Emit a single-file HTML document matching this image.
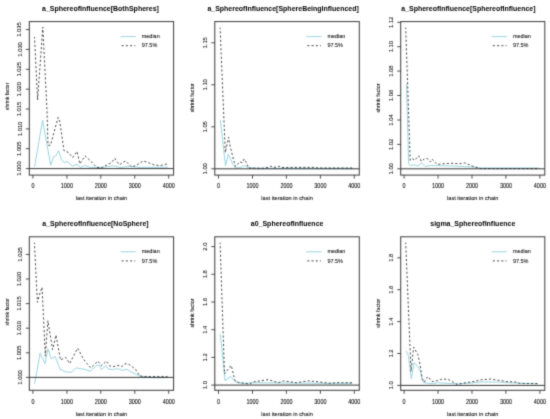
<!DOCTYPE html><html><head><meta charset="utf-8"><style>html,body{margin:0;padding:0;background:#fff;width:550px;height:419px;overflow:hidden}svg{display:block}text{font-family:"Liberation Sans", sans-serif}.a{stroke:#000;stroke-width:0.06px}</style></head><body>
<svg width="550" height="419" viewBox="0 0 550 419">
<rect width="550" height="419" fill="#fff"/>
<defs><filter id="b" x="0" y="0" width="550" height="419" filterUnits="userSpaceOnUse" color-interpolation-filters="sRGB"><feConvolveMatrix order="3" kernelMatrix="0.0225 0.1050 0.0225 0.1050 0.4900 0.1050 0.0225 0.1050 0.0225" divisor="1" edgeMode="duplicate" preserveAlpha="false"/></filter></defs><g filter="url(#b)">
<text transform="translate(42.0 10.60) scale(1 1.100)" font-size="7" font-weight="bold" fill="#000000">a_SphereofInfluence[BothSpheres]</text>
<polyline points="34.5,167.0 42.6,120.3 50.7,165.3 53.7,156.7 55.8,155.8 58.6,150.7 61.5,160.1 64.9,162.7 67.1,161.0 71.8,166.2 77.0,164.4 80.4,167.4 85.0,165.6 89.8,167.4 100.0,167.6 114.0,165.8 120.0,167.5 130.0,166.3 140.0,167.4 168.0,167.2" fill="none" stroke="#8fcfdc" stroke-width="0.9" stroke-linejoin="round"/>
<polyline points="34.5,37.0 37.6,100.0 42.8,27.2 47.0,110.0 48.0,145.0 50.4,145.5 58.1,117.4 59.9,122.0 61.7,135.0 64.0,150.7 68.4,152.4 72.6,157.6 77.0,151.5 79.9,163.9 85.0,155.8 91.5,161.9 96.2,167.1 101.6,167.9 107.0,164.8 111.6,162.5 114.7,158.3 119.4,164.8 125.5,160.9 131.7,167.1 136.4,165.2 143.3,160.9 148.7,162.8 154.9,165.2 161.1,165.5 168.0,163.7" fill="none" stroke="#333333" stroke-width="0.9" stroke-dasharray="2.1,2.15" stroke-dashoffset="0.7"/>
<line x1="29.3" x2="173.6" y1="168.6" y2="168.6" stroke="#222" stroke-width="0.9"/>
<rect x="29.3" y="21.6" width="144.3" height="153.5" fill="none" stroke="#3a3a3a" stroke-width="1"/>
<line x1="25.8" x2="29.3" y1="168.6" y2="168.6" stroke="#3a3a3a" stroke-width="0.9"/>
<text x="19.4" y="168.6" class="a" font-size="5.8" fill="#000000" text-anchor="middle" transform="rotate(-90 19.4 168.6)" dy="2.1">1.000</text>
<line x1="25.8" x2="29.3" y1="148.7" y2="148.7" stroke="#3a3a3a" stroke-width="0.9"/>
<text x="19.4" y="148.7" class="a" font-size="5.8" fill="#000000" text-anchor="middle" transform="rotate(-90 19.4 148.7)" dy="2.1">1.005</text>
<line x1="25.8" x2="29.3" y1="128.9" y2="128.9" stroke="#3a3a3a" stroke-width="0.9"/>
<text x="19.4" y="128.9" class="a" font-size="5.8" fill="#000000" text-anchor="middle" transform="rotate(-90 19.4 128.9)" dy="2.1">1.010</text>
<line x1="25.8" x2="29.3" y1="109.0" y2="109.0" stroke="#3a3a3a" stroke-width="0.9"/>
<text x="19.4" y="109.0" class="a" font-size="5.8" fill="#000000" text-anchor="middle" transform="rotate(-90 19.4 109.0)" dy="2.1">1.015</text>
<line x1="25.8" x2="29.3" y1="89.2" y2="89.2" stroke="#3a3a3a" stroke-width="0.9"/>
<text x="19.4" y="89.2" class="a" font-size="5.8" fill="#000000" text-anchor="middle" transform="rotate(-90 19.4 89.2)" dy="2.1">1.020</text>
<line x1="25.8" x2="29.3" y1="69.3" y2="69.3" stroke="#3a3a3a" stroke-width="0.9"/>
<text x="19.4" y="69.3" class="a" font-size="5.8" fill="#000000" text-anchor="middle" transform="rotate(-90 19.4 69.3)" dy="2.1">1.025</text>
<line x1="25.8" x2="29.3" y1="49.4" y2="49.4" stroke="#3a3a3a" stroke-width="0.9"/>
<text x="19.4" y="49.4" class="a" font-size="5.8" fill="#000000" text-anchor="middle" transform="rotate(-90 19.4 49.4)" dy="2.1">1.030</text>
<line x1="25.8" x2="29.3" y1="29.6" y2="29.6" stroke="#3a3a3a" stroke-width="0.9"/>
<text x="19.4" y="29.6" class="a" font-size="5.8" fill="#000000" text-anchor="middle" transform="rotate(-90 19.4 29.6)" dy="2.1">1.035</text>
<line x1="32.9" x2="32.9" y1="175.1" y2="178.6" stroke="#3a3a3a" stroke-width="0.9"/>
<text transform="translate(32.90 188.30) scale(1 1.200)" class="a" font-size="5.45" fill="#000000" text-anchor="middle">0</text>
<line x1="66.9" x2="66.9" y1="175.1" y2="178.6" stroke="#3a3a3a" stroke-width="0.9"/>
<text transform="translate(66.86 188.30) scale(1 1.200)" class="a" font-size="5.45" fill="#000000" text-anchor="middle">1000</text>
<line x1="100.8" x2="100.8" y1="175.1" y2="178.6" stroke="#3a3a3a" stroke-width="0.9"/>
<text transform="translate(100.82 188.30) scale(1 1.200)" class="a" font-size="5.45" fill="#000000" text-anchor="middle">2000</text>
<line x1="134.8" x2="134.8" y1="175.1" y2="178.6" stroke="#3a3a3a" stroke-width="0.9"/>
<text transform="translate(134.78 188.30) scale(1 1.200)" class="a" font-size="5.45" fill="#000000" text-anchor="middle">3000</text>
<line x1="168.7" x2="168.7" y1="175.1" y2="178.6" stroke="#3a3a3a" stroke-width="0.9"/>
<text transform="translate(168.74 188.30) scale(1 1.200)" class="a" font-size="5.45" fill="#000000" text-anchor="middle">4000</text>
<text transform="translate(101.45 200.45) scale(1 1.080)" class="a" font-size="5.65" fill="#000000" text-anchor="middle">last iteration in chain</text>
<text x="6.9" y="96.4" class="a" font-size="5.05" fill="#000000" text-anchor="middle" transform="rotate(-90 6.9 96.4)" dy="1.9">shrink factor</text>
<line x1="120.5" x2="135.8" y1="36.6" y2="36.6" stroke="#8fcfdc" stroke-width="0.9"/>
<line x1="121.6" x2="135.3" y1="45.7" y2="45.7" stroke="#333333" stroke-width="0.9" stroke-dasharray="2.1,2.15"/>
<text x="141.7" y="38.1" class="a" font-size="5.5" fill="#000000">median</text>
<text x="141.7" y="47.4" class="a" font-size="5.5" fill="#000000">97.5%</text>
<text transform="translate(207.4 10.60) scale(1 1.100)" font-size="7" font-weight="bold" fill="#000000">a_SphereofInfluence[SphereBeingInfluenced]</text>
<polyline points="220.3,119.8 225.5,165.6 228.3,154.2 232.1,162.7 235.0,167.5 237.9,168.0 242.6,166.6 244.5,165.6 248.0,167.5 260.0,168.3 353.5,168.4" fill="none" stroke="#8fcfdc" stroke-width="0.9" stroke-linejoin="round"/>
<polyline points="220.1,27.7 225.3,152.5 228.6,137.2 230.2,146.5 233.1,158.0 235.4,166.6 237.3,164.7 239.8,161.8 242.2,162.7 244.2,158.9 246.4,162.7 248.7,168.2 264.0,168.2 268.0,167.3 270.6,166.2 274.0,167.5 278.3,166.2 282.0,167.5 300.0,167.3 314.0,167.3 318.0,168.0 353.5,168.0" fill="none" stroke="#333333" stroke-width="0.9" stroke-dasharray="2.1,2.15" stroke-dashoffset="0.7"/>
<line x1="214.8" x2="359.3" y1="168.8" y2="168.8" stroke="#222" stroke-width="0.9"/>
<rect x="214.8" y="21.6" width="144.5" height="153.5" fill="none" stroke="#3a3a3a" stroke-width="1"/>
<line x1="211.3" x2="214.8" y1="168.8" y2="168.8" stroke="#3a3a3a" stroke-width="0.9"/>
<text x="204.9" y="168.8" class="a" font-size="5.8" fill="#000000" text-anchor="middle" transform="rotate(-90 204.9 168.8)" dy="2.1">1.00</text>
<line x1="211.3" x2="214.8" y1="126.8" y2="126.8" stroke="#3a3a3a" stroke-width="0.9"/>
<text x="204.9" y="126.8" class="a" font-size="5.8" fill="#000000" text-anchor="middle" transform="rotate(-90 204.9 126.8)" dy="2.1">1.05</text>
<line x1="211.3" x2="214.8" y1="84.8" y2="84.8" stroke="#3a3a3a" stroke-width="0.9"/>
<text x="204.9" y="84.8" class="a" font-size="5.8" fill="#000000" text-anchor="middle" transform="rotate(-90 204.9 84.8)" dy="2.1">1.10</text>
<line x1="211.3" x2="214.8" y1="42.8" y2="42.8" stroke="#3a3a3a" stroke-width="0.9"/>
<text x="204.9" y="42.8" class="a" font-size="5.8" fill="#000000" text-anchor="middle" transform="rotate(-90 204.9 42.8)" dy="2.1">1.15</text>
<line x1="218.5" x2="218.5" y1="175.1" y2="178.6" stroke="#3a3a3a" stroke-width="0.9"/>
<text transform="translate(218.50 188.30) scale(1 1.200)" class="a" font-size="5.45" fill="#000000" text-anchor="middle">0</text>
<line x1="252.5" x2="252.5" y1="175.1" y2="178.6" stroke="#3a3a3a" stroke-width="0.9"/>
<text transform="translate(252.46 188.30) scale(1 1.200)" class="a" font-size="5.45" fill="#000000" text-anchor="middle">1000</text>
<line x1="286.4" x2="286.4" y1="175.1" y2="178.6" stroke="#3a3a3a" stroke-width="0.9"/>
<text transform="translate(286.42 188.30) scale(1 1.200)" class="a" font-size="5.45" fill="#000000" text-anchor="middle">2000</text>
<line x1="320.4" x2="320.4" y1="175.1" y2="178.6" stroke="#3a3a3a" stroke-width="0.9"/>
<text transform="translate(320.38 188.30) scale(1 1.200)" class="a" font-size="5.45" fill="#000000" text-anchor="middle">3000</text>
<line x1="354.3" x2="354.3" y1="175.1" y2="178.6" stroke="#3a3a3a" stroke-width="0.9"/>
<text transform="translate(354.34 188.30) scale(1 1.200)" class="a" font-size="5.45" fill="#000000" text-anchor="middle">4000</text>
<text transform="translate(287.05 200.45) scale(1 1.080)" class="a" font-size="5.65" fill="#000000" text-anchor="middle">last iteration in chain</text>
<text x="192.4" y="97.8" class="a" font-size="5.30" fill="#000000" text-anchor="middle" transform="rotate(-90 192.4 97.8)" dy="1.9">shrink factor</text>
<line x1="306.2" x2="321.5" y1="36.6" y2="36.6" stroke="#8fcfdc" stroke-width="0.9"/>
<line x1="307.3" x2="321.0" y1="45.7" y2="45.7" stroke="#333333" stroke-width="0.9" stroke-dasharray="2.1,2.15"/>
<text x="327.4" y="38.1" class="a" font-size="5.5" fill="#000000">median</text>
<text x="327.4" y="47.4" class="a" font-size="5.5" fill="#000000">97.5%</text>
<text transform="translate(401.2 10.60) scale(1 1.100)" font-size="7" font-weight="bold" fill="#000000">a_SphereofInfluence[SphereofInfluence]</text>
<polyline points="406.5,84.0 408.6,163.7 410.2,165.5 413.6,164.8 418.0,166.0 421.5,162.6 425.0,166.5 430.0,165.5 450.9,165.9 472.0,167.0 480.0,168.0 539.0,168.0" fill="none" stroke="#8fcfdc" stroke-width="0.9" stroke-linejoin="round"/>
<polyline points="405.7,27.7 410.2,160.3 412.4,158.7 414.7,160.3 418.6,155.8 421.5,161.4 424.4,158.7 427.6,158.7 430.5,161.9 432.1,159.2 437.3,164.5 442.6,163.8 450.9,163.2 459.3,163.8 464.5,162.8 471.8,165.9 480.2,168.5 539.5,168.6" fill="none" stroke="#333333" stroke-width="0.9" stroke-dasharray="2.1,2.15" stroke-dashoffset="0.7"/>
<line x1="400.7" x2="544.8" y1="168.8" y2="168.8" stroke="#222" stroke-width="0.9"/>
<rect x="400.7" y="21.6" width="144.1" height="153.5" fill="none" stroke="#3a3a3a" stroke-width="1"/>
<line x1="397.2" x2="400.7" y1="168.8" y2="168.8" stroke="#3a3a3a" stroke-width="0.9"/>
<text x="390.8" y="168.8" class="a" font-size="5.8" fill="#000000" text-anchor="middle" transform="rotate(-90 390.8 168.8)" dy="2.1">1.00</text>
<line x1="397.2" x2="400.7" y1="144.4" y2="144.4" stroke="#3a3a3a" stroke-width="0.9"/>
<text x="390.8" y="144.4" class="a" font-size="5.8" fill="#000000" text-anchor="middle" transform="rotate(-90 390.8 144.4)" dy="2.1">1.02</text>
<line x1="397.2" x2="400.7" y1="120.0" y2="120.0" stroke="#3a3a3a" stroke-width="0.9"/>
<text x="390.8" y="120.0" class="a" font-size="5.8" fill="#000000" text-anchor="middle" transform="rotate(-90 390.8 120.0)" dy="2.1">1.04</text>
<line x1="397.2" x2="400.7" y1="95.5" y2="95.5" stroke="#3a3a3a" stroke-width="0.9"/>
<text x="390.8" y="95.5" class="a" font-size="5.8" fill="#000000" text-anchor="middle" transform="rotate(-90 390.8 95.5)" dy="2.1">1.06</text>
<line x1="397.2" x2="400.7" y1="71.1" y2="71.1" stroke="#3a3a3a" stroke-width="0.9"/>
<text x="390.8" y="71.1" class="a" font-size="5.8" fill="#000000" text-anchor="middle" transform="rotate(-90 390.8 71.1)" dy="2.1">1.08</text>
<line x1="397.2" x2="400.7" y1="46.7" y2="46.7" stroke="#3a3a3a" stroke-width="0.9"/>
<text x="390.8" y="46.7" class="a" font-size="5.8" fill="#000000" text-anchor="middle" transform="rotate(-90 390.8 46.7)" dy="2.1">1.10</text>
<line x1="397.2" x2="400.7" y1="22.3" y2="22.3" stroke="#3a3a3a" stroke-width="0.9"/>
<text x="390.8" y="22.3" class="a" font-size="5.8" fill="#000000" text-anchor="middle" transform="rotate(-90 390.8 22.3)" dy="2.1">1.12</text>
<line x1="404.1" x2="404.1" y1="175.1" y2="178.6" stroke="#3a3a3a" stroke-width="0.9"/>
<text transform="translate(404.05 188.30) scale(1 1.200)" class="a" font-size="5.45" fill="#000000" text-anchor="middle">0</text>
<line x1="438.0" x2="438.0" y1="175.1" y2="178.6" stroke="#3a3a3a" stroke-width="0.9"/>
<text transform="translate(438.01 188.30) scale(1 1.200)" class="a" font-size="5.45" fill="#000000" text-anchor="middle">1000</text>
<line x1="472.0" x2="472.0" y1="175.1" y2="178.6" stroke="#3a3a3a" stroke-width="0.9"/>
<text transform="translate(471.97 188.30) scale(1 1.200)" class="a" font-size="5.45" fill="#000000" text-anchor="middle">2000</text>
<line x1="505.9" x2="505.9" y1="175.1" y2="178.6" stroke="#3a3a3a" stroke-width="0.9"/>
<text transform="translate(505.93 188.30) scale(1 1.200)" class="a" font-size="5.45" fill="#000000" text-anchor="middle">3000</text>
<line x1="539.9" x2="539.9" y1="175.1" y2="178.6" stroke="#3a3a3a" stroke-width="0.9"/>
<text transform="translate(539.89 188.30) scale(1 1.200)" class="a" font-size="5.45" fill="#000000" text-anchor="middle">4000</text>
<text transform="translate(472.75 200.45) scale(1 1.080)" class="a" font-size="5.65" fill="#000000" text-anchor="middle">last iteration in chain</text>
<text x="377.8" y="98.0" class="a" font-size="5.35" fill="#000000" text-anchor="middle" transform="rotate(-90 377.8 98.0)" dy="1.9">shrink factor</text>
<line x1="491.7" x2="507.0" y1="36.6" y2="36.6" stroke="#8fcfdc" stroke-width="0.9"/>
<line x1="492.8" x2="506.5" y1="45.7" y2="45.7" stroke="#333333" stroke-width="0.9" stroke-dasharray="2.1,2.15"/>
<text x="512.9" y="38.1" class="a" font-size="5.5" fill="#000000">median</text>
<text x="512.9" y="47.4" class="a" font-size="5.5" fill="#000000">97.5%</text>
<text transform="translate(42.3 225.80) scale(1 1.100)" font-size="7" font-weight="bold" fill="#000000">a_SphereofInfluence[NoSphere]</text>
<polyline points="34.6,383.9 40.1,353.1 45.0,363.6 47.9,348.8 51.3,358.7 55.2,356.6 60.0,369.2 65.7,371.9 71.0,372.4 76.2,367.9 84.1,369.2 90.0,371.2 93.1,368.8 97.0,365.0 99.3,365.3 101.2,369.6 106.3,365.3 108.6,369.3 113.3,369.3 117.9,368.8 122.6,370.4 127.2,369.3 131.1,372.0 136.5,374.6 139.6,376.1 152.0,377.7 159.8,377.8 167.5,377.4" fill="none" stroke="#8fcfdc" stroke-width="0.9" stroke-linejoin="round"/>
<polyline points="34.4,242.7 37.4,302.3 40.0,293.1 42.1,287.3 45.3,356.1 47.9,320.7 52.6,349.6 56.0,335.1 60.5,360.0 65.7,357.4 69.7,363.5 77.6,348.2 84.0,360.0 90.7,367.9 94.7,364.2 97.8,361.1 101.6,365.7 106.3,361.1 110.2,366.2 114.0,366.5 117.9,365.3 121.8,366.5 124.9,363.9 128.0,363.7 131.9,366.5 135.7,369.6 139.6,375.8 144.3,376.6 167.5,376.6" fill="none" stroke="#333333" stroke-width="0.9" stroke-dasharray="2.1,2.15" stroke-dashoffset="0.7"/>
<line x1="29.3" x2="173.6" y1="377.4" y2="377.4" stroke="#222" stroke-width="0.9"/>
<rect x="29.3" y="236.8" width="144.3" height="153.5" fill="none" stroke="#3a3a3a" stroke-width="1"/>
<line x1="25.8" x2="29.3" y1="377.4" y2="377.4" stroke="#3a3a3a" stroke-width="0.9"/>
<text x="19.4" y="377.4" class="a" font-size="5.8" fill="#000000" text-anchor="middle" transform="rotate(-90 19.4 377.4)" dy="2.1">1.000</text>
<line x1="25.8" x2="29.3" y1="352.8" y2="352.8" stroke="#3a3a3a" stroke-width="0.9"/>
<text x="19.4" y="352.8" class="a" font-size="5.8" fill="#000000" text-anchor="middle" transform="rotate(-90 19.4 352.8)" dy="2.1">1.005</text>
<line x1="25.8" x2="29.3" y1="328.2" y2="328.2" stroke="#3a3a3a" stroke-width="0.9"/>
<text x="19.4" y="328.2" class="a" font-size="5.8" fill="#000000" text-anchor="middle" transform="rotate(-90 19.4 328.2)" dy="2.1">1.010</text>
<line x1="25.8" x2="29.3" y1="303.6" y2="303.6" stroke="#3a3a3a" stroke-width="0.9"/>
<text x="19.4" y="303.6" class="a" font-size="5.8" fill="#000000" text-anchor="middle" transform="rotate(-90 19.4 303.6)" dy="2.1">1.015</text>
<line x1="25.8" x2="29.3" y1="279.0" y2="279.0" stroke="#3a3a3a" stroke-width="0.9"/>
<text x="19.4" y="279.0" class="a" font-size="5.8" fill="#000000" text-anchor="middle" transform="rotate(-90 19.4 279.0)" dy="2.1">1.020</text>
<line x1="25.8" x2="29.3" y1="254.4" y2="254.4" stroke="#3a3a3a" stroke-width="0.9"/>
<text x="19.4" y="254.4" class="a" font-size="5.8" fill="#000000" text-anchor="middle" transform="rotate(-90 19.4 254.4)" dy="2.1">1.025</text>
<line x1="32.9" x2="32.9" y1="390.3" y2="393.8" stroke="#3a3a3a" stroke-width="0.9"/>
<text transform="translate(32.90 403.50) scale(1 1.200)" class="a" font-size="5.45" fill="#000000" text-anchor="middle">0</text>
<line x1="66.9" x2="66.9" y1="390.3" y2="393.8" stroke="#3a3a3a" stroke-width="0.9"/>
<text transform="translate(66.86 403.50) scale(1 1.200)" class="a" font-size="5.45" fill="#000000" text-anchor="middle">1000</text>
<line x1="100.8" x2="100.8" y1="390.3" y2="393.8" stroke="#3a3a3a" stroke-width="0.9"/>
<text transform="translate(100.82 403.50) scale(1 1.200)" class="a" font-size="5.45" fill="#000000" text-anchor="middle">2000</text>
<line x1="134.8" x2="134.8" y1="390.3" y2="393.8" stroke="#3a3a3a" stroke-width="0.9"/>
<text transform="translate(134.78 403.50) scale(1 1.200)" class="a" font-size="5.45" fill="#000000" text-anchor="middle">3000</text>
<line x1="168.7" x2="168.7" y1="390.3" y2="393.8" stroke="#3a3a3a" stroke-width="0.9"/>
<text transform="translate(168.74 403.50) scale(1 1.200)" class="a" font-size="5.45" fill="#000000" text-anchor="middle">4000</text>
<text transform="translate(101.45 415.65) scale(1 1.080)" class="a" font-size="5.65" fill="#000000" text-anchor="middle">last iteration in chain</text>
<text x="6.9" y="311.7" class="a" font-size="5.05" fill="#000000" text-anchor="middle" transform="rotate(-90 6.9 311.7)" dy="1.9">shrink factor</text>
<line x1="120.5" x2="135.8" y1="251.8" y2="251.8" stroke="#8fcfdc" stroke-width="0.9"/>
<line x1="121.6" x2="135.3" y1="260.9" y2="260.9" stroke="#333333" stroke-width="0.9" stroke-dasharray="2.1,2.15"/>
<text x="141.7" y="253.4" class="a" font-size="5.5" fill="#000000">median</text>
<text x="141.7" y="262.6" class="a" font-size="5.5" fill="#000000">97.5%</text>
<text transform="translate(287.1 225.80) scale(1 1.100)" font-size="7" font-weight="bold" fill="#000000" text-anchor="middle">a0_SphereofInfluence</text>
<polyline points="220.3,333.9 225.1,380.7 230.8,376.5 235.0,381.7 242.7,383.6 252.2,382.7 352.0,383.5" fill="none" stroke="#8fcfdc" stroke-width="0.9" stroke-linejoin="round"/>
<polyline points="220.1,242.7 224.5,374.0 231.2,365.4 235.0,380.7 238.9,382.7 244.6,383.0 249.4,384.2 254.2,381.7 260.0,380.9 268.2,379.6 278.2,382.7 283.6,380.9 296.4,382.7 308.2,380.9 318.2,381.8 329.1,383.3 336.4,382.7 352.0,382.7" fill="none" stroke="#333333" stroke-width="0.9" stroke-dasharray="2.1,2.15" stroke-dashoffset="0.7"/>
<line x1="214.8" x2="359.3" y1="385.1" y2="385.1" stroke="#222" stroke-width="0.9"/>
<rect x="214.8" y="236.8" width="144.5" height="153.5" fill="none" stroke="#3a3a3a" stroke-width="1"/>
<line x1="211.3" x2="214.8" y1="385.1" y2="385.1" stroke="#3a3a3a" stroke-width="0.9"/>
<text x="204.9" y="385.1" class="a" font-size="5.8" fill="#000000" text-anchor="middle" transform="rotate(-90 204.9 385.1)" dy="2.1">1.0</text>
<line x1="211.3" x2="214.8" y1="357.4" y2="357.4" stroke="#3a3a3a" stroke-width="0.9"/>
<text x="204.9" y="357.4" class="a" font-size="5.8" fill="#000000" text-anchor="middle" transform="rotate(-90 204.9 357.4)" dy="2.1">1.2</text>
<line x1="211.3" x2="214.8" y1="329.7" y2="329.7" stroke="#3a3a3a" stroke-width="0.9"/>
<text x="204.9" y="329.7" class="a" font-size="5.8" fill="#000000" text-anchor="middle" transform="rotate(-90 204.9 329.7)" dy="2.1">1.4</text>
<line x1="211.3" x2="214.8" y1="302.0" y2="302.0" stroke="#3a3a3a" stroke-width="0.9"/>
<text x="204.9" y="302.0" class="a" font-size="5.8" fill="#000000" text-anchor="middle" transform="rotate(-90 204.9 302.0)" dy="2.1">1.6</text>
<line x1="211.3" x2="214.8" y1="274.3" y2="274.3" stroke="#3a3a3a" stroke-width="0.9"/>
<text x="204.9" y="274.3" class="a" font-size="5.8" fill="#000000" text-anchor="middle" transform="rotate(-90 204.9 274.3)" dy="2.1">1.8</text>
<line x1="211.3" x2="214.8" y1="246.6" y2="246.6" stroke="#3a3a3a" stroke-width="0.9"/>
<text x="204.9" y="246.6" class="a" font-size="5.8" fill="#000000" text-anchor="middle" transform="rotate(-90 204.9 246.6)" dy="2.1">2.0</text>
<line x1="218.5" x2="218.5" y1="390.3" y2="393.8" stroke="#3a3a3a" stroke-width="0.9"/>
<text transform="translate(218.50 403.50) scale(1 1.200)" class="a" font-size="5.45" fill="#000000" text-anchor="middle">0</text>
<line x1="252.5" x2="252.5" y1="390.3" y2="393.8" stroke="#3a3a3a" stroke-width="0.9"/>
<text transform="translate(252.46 403.50) scale(1 1.200)" class="a" font-size="5.45" fill="#000000" text-anchor="middle">1000</text>
<line x1="286.4" x2="286.4" y1="390.3" y2="393.8" stroke="#3a3a3a" stroke-width="0.9"/>
<text transform="translate(286.42 403.50) scale(1 1.200)" class="a" font-size="5.45" fill="#000000" text-anchor="middle">2000</text>
<line x1="320.4" x2="320.4" y1="390.3" y2="393.8" stroke="#3a3a3a" stroke-width="0.9"/>
<text transform="translate(320.38 403.50) scale(1 1.200)" class="a" font-size="5.45" fill="#000000" text-anchor="middle">3000</text>
<line x1="354.3" x2="354.3" y1="390.3" y2="393.8" stroke="#3a3a3a" stroke-width="0.9"/>
<text transform="translate(354.34 403.50) scale(1 1.200)" class="a" font-size="5.45" fill="#000000" text-anchor="middle">4000</text>
<text transform="translate(287.05 415.65) scale(1 1.080)" class="a" font-size="5.65" fill="#000000" text-anchor="middle">last iteration in chain</text>
<text x="192.4" y="313.0" class="a" font-size="5.30" fill="#000000" text-anchor="middle" transform="rotate(-90 192.4 313.0)" dy="1.9">shrink factor</text>
<line x1="306.2" x2="321.5" y1="251.8" y2="251.8" stroke="#8fcfdc" stroke-width="0.9"/>
<line x1="307.3" x2="321.0" y1="260.9" y2="260.9" stroke="#333333" stroke-width="0.9" stroke-dasharray="2.1,2.15"/>
<text x="327.4" y="253.4" class="a" font-size="5.5" fill="#000000">median</text>
<text x="327.4" y="262.6" class="a" font-size="5.5" fill="#000000">97.5%</text>
<text transform="translate(472.8 225.80) scale(1 1.100)" font-size="7" font-weight="bold" fill="#000000" text-anchor="middle">sigma_SphereofInfluence</text>
<polyline points="406.0,350.8 408.4,355.8 411.3,378.7 414.2,362.7 417.8,366.5 420.6,371.5 422.1,380.9 424.9,383.0 429.2,383.3 432.8,383.7 437.8,382.7 441.4,383.0 457.2,383.9 468.6,383.3 482.0,382.0 497.3,382.0 512.5,382.9 538.0,383.9" fill="none" stroke="#8fcfdc" stroke-width="0.9" stroke-linejoin="round"/>
<polyline points="405.7,242.7 411.0,371.5 413.7,347.2 417.8,354.4 419.9,363.7 422.1,378.0 424.2,382.3 427.8,376.6 432.1,381.6 436.4,380.9 440.7,379.4 447.6,379.1 457.2,384.4 464.8,382.9 474.4,381.4 482.0,379.7 490.6,379.1 499.2,380.4 506.8,381.6 515.4,382.0 520.2,383.5 538.0,383.5" fill="none" stroke="#333333" stroke-width="0.9" stroke-dasharray="2.1,2.15" stroke-dashoffset="0.7"/>
<line x1="400.7" x2="544.8" y1="385.4" y2="385.4" stroke="#222" stroke-width="0.9"/>
<rect x="400.7" y="236.8" width="144.1" height="153.5" fill="none" stroke="#3a3a3a" stroke-width="1"/>
<line x1="397.2" x2="400.7" y1="385.4" y2="385.4" stroke="#3a3a3a" stroke-width="0.9"/>
<text x="390.8" y="385.4" class="a" font-size="5.8" fill="#000000" text-anchor="middle" transform="rotate(-90 390.8 385.4)" dy="2.1">1.0</text>
<line x1="397.2" x2="400.7" y1="353.5" y2="353.5" stroke="#3a3a3a" stroke-width="0.9"/>
<text x="390.8" y="353.5" class="a" font-size="5.8" fill="#000000" text-anchor="middle" transform="rotate(-90 390.8 353.5)" dy="2.1">1.2</text>
<line x1="397.2" x2="400.7" y1="321.6" y2="321.6" stroke="#3a3a3a" stroke-width="0.9"/>
<text x="390.8" y="321.6" class="a" font-size="5.8" fill="#000000" text-anchor="middle" transform="rotate(-90 390.8 321.6)" dy="2.1">1.4</text>
<line x1="397.2" x2="400.7" y1="289.7" y2="289.7" stroke="#3a3a3a" stroke-width="0.9"/>
<text x="390.8" y="289.7" class="a" font-size="5.8" fill="#000000" text-anchor="middle" transform="rotate(-90 390.8 289.7)" dy="2.1">1.6</text>
<line x1="397.2" x2="400.7" y1="257.8" y2="257.8" stroke="#3a3a3a" stroke-width="0.9"/>
<text x="390.8" y="257.8" class="a" font-size="5.8" fill="#000000" text-anchor="middle" transform="rotate(-90 390.8 257.8)" dy="2.1">1.8</text>
<line x1="404.1" x2="404.1" y1="390.3" y2="393.8" stroke="#3a3a3a" stroke-width="0.9"/>
<text transform="translate(404.05 403.50) scale(1 1.200)" class="a" font-size="5.45" fill="#000000" text-anchor="middle">0</text>
<line x1="438.0" x2="438.0" y1="390.3" y2="393.8" stroke="#3a3a3a" stroke-width="0.9"/>
<text transform="translate(438.01 403.50) scale(1 1.200)" class="a" font-size="5.45" fill="#000000" text-anchor="middle">1000</text>
<line x1="472.0" x2="472.0" y1="390.3" y2="393.8" stroke="#3a3a3a" stroke-width="0.9"/>
<text transform="translate(471.97 403.50) scale(1 1.200)" class="a" font-size="5.45" fill="#000000" text-anchor="middle">2000</text>
<line x1="505.9" x2="505.9" y1="390.3" y2="393.8" stroke="#3a3a3a" stroke-width="0.9"/>
<text transform="translate(505.93 403.50) scale(1 1.200)" class="a" font-size="5.45" fill="#000000" text-anchor="middle">3000</text>
<line x1="539.9" x2="539.9" y1="390.3" y2="393.8" stroke="#3a3a3a" stroke-width="0.9"/>
<text transform="translate(539.89 403.50) scale(1 1.200)" class="a" font-size="5.45" fill="#000000" text-anchor="middle">4000</text>
<text transform="translate(472.75 415.65) scale(1 1.080)" class="a" font-size="5.65" fill="#000000" text-anchor="middle">last iteration in chain</text>
<text x="377.8" y="313.2" class="a" font-size="5.35" fill="#000000" text-anchor="middle" transform="rotate(-90 377.8 313.2)" dy="1.9">shrink factor</text>
<line x1="491.7" x2="507.0" y1="251.8" y2="251.8" stroke="#8fcfdc" stroke-width="0.9"/>
<line x1="492.8" x2="506.5" y1="260.9" y2="260.9" stroke="#333333" stroke-width="0.9" stroke-dasharray="2.1,2.15"/>
<text x="512.9" y="253.4" class="a" font-size="5.5" fill="#000000">median</text>
<text x="512.9" y="262.6" class="a" font-size="5.5" fill="#000000">97.5%</text>
</g>
</svg></body></html>
